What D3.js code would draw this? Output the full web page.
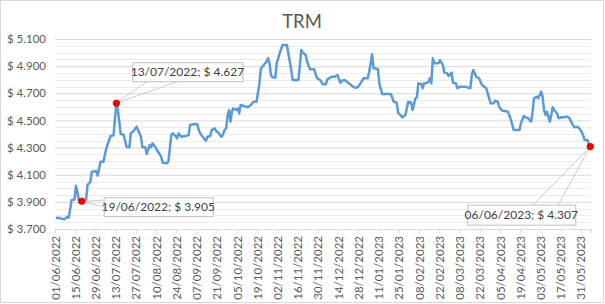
<!DOCTYPE html>
<html>
<head>
<meta charset="utf-8">
<script src="https://cdn.jsdelivr.net/npm/d3@7"></script>
<style>
  body { margin: 0; background: #fff; }
  svg { display: block; font-family: Lato, "Open Sans", sans-serif; }
</style>
</head>
<body>
<div id="chart"></div>
<script>
// TRM daily values
var dates = [
  "2022-06-01","2022-06-02","2022-06-04","2022-06-07","2022-06-09","2022-06-10","2022-06-12","2022-06-14","2022-06-15","2022-06-16","2022-06-17","2022-06-19","2022-06-22","2022-06-23","2022-06-25","2022-06-26","2022-06-29","2022-06-30",
  "2022-07-02","2022-07-04","2022-07-06","2022-07-08","2022-07-09","2022-07-11","2022-07-13","2022-07-14","2022-07-16","2022-07-18","2022-07-20","2022-07-22","2022-07-23","2022-07-25","2022-07-27","2022-07-28","2022-07-30","2022-07-31",
  "2022-08-02","2022-08-03","2022-08-05","2022-08-06","2022-08-07","2022-08-09","2022-08-10","2022-08-13","2022-08-14","2022-08-17","2022-08-18","2022-08-20","2022-08-21","2022-08-23","2022-08-24","2022-08-25","2022-08-27","2022-08-30",
  "2022-09-01","2022-09-02","2022-09-05","2022-09-07","2022-09-08","2022-09-09","2022-09-11","2022-09-12","2022-09-13","2022-09-14","2022-09-16","2022-09-17","2022-09-19","2022-09-20","2022-09-22","2022-09-23","2022-09-24","2022-09-26","2022-09-27","2022-09-28","2022-09-29","2022-09-30",
  "2022-10-01","2022-10-02","2022-10-04","2022-10-05","2022-10-06","2022-10-07","2022-10-09","2022-10-12","2022-10-14","2022-10-16","2022-10-18","2022-10-20","2022-10-21","2022-10-23","2022-10-24","2022-10-26","2022-10-27","2022-10-28","2022-10-29","2022-10-31",
  "2022-11-01","2022-11-03","2022-11-05","2022-11-08","2022-11-09","2022-11-11","2022-11-12","2022-11-16","2022-11-18","2022-11-19","2022-11-21","2022-11-22","2022-11-24","2022-11-27","2022-11-28","2022-11-29",
  "2022-12-01","2022-12-03","2022-12-05","2022-12-06","2022-12-09","2022-12-11","2022-12-13","2022-12-15","2022-12-16","2022-12-18","2022-12-21","2022-12-23","2022-12-25","2022-12-27","2022-12-29","2022-12-31",
  "2023-01-03","2023-01-04","2023-01-06","2023-01-07","2023-01-10","2023-01-11","2023-01-13","2023-01-19","2023-01-21","2023-01-23","2023-01-24","2023-01-26","2023-01-27","2023-01-29","2023-01-31",
  "2023-02-02","2023-02-03","2023-02-05","2023-02-06","2023-02-07","2023-02-09","2023-02-10","2023-02-11","2023-02-13","2023-02-14","2023-02-15","2023-02-16","2023-02-17","2023-02-18","2023-02-21","2023-02-22","2023-02-24","2023-02-25","2023-02-27","2023-02-28",
  "2023-03-02","2023-03-03","2023-03-05","2023-03-06","2023-03-08","2023-03-11","2023-03-13","2023-03-15","2023-03-16","2023-03-17","2023-03-19","2023-03-21","2023-03-23","2023-03-26","2023-03-27","2023-03-29","2023-03-31",
  "2023-04-01","2023-04-03","2023-04-04","2023-04-06","2023-04-08","2023-04-10","2023-04-12","2023-04-14","2023-04-18","2023-04-19","2023-04-21","2023-04-22","2023-04-24","2023-04-25","2023-04-26","2023-04-27","2023-04-28","2023-04-30",
  "2023-05-01","2023-05-03","2023-05-04","2023-05-05","2023-05-06","2023-05-07","2023-05-08","2023-05-09","2023-05-10","2023-05-11","2023-05-12","2023-05-14","2023-05-15","2023-05-17","2023-05-19","2023-05-21","2023-05-22","2023-05-23","2023-05-25","2023-05-26","2023-05-28","2023-05-29","2023-05-31",
  "2023-06-01","2023-06-02","2023-06-04","2023-06-05","2023-06-06"
];
var trm = [
  3780,3783,3779,3771,3790,3783,3913,3918,4019,3975,3913,3905,3913,4023,4048,4122,4127,4093,
  4196,4196,4294,4356,4385,4390,4627,4580,4400,4395,4306,4302,4405,4424,4454,4429,4380,4302,
  4302,4252,4319,4302,4331,4302,4282,4233,4188,4184,4196,4392,4405,4385,4368,4405,4380,4385,
  4392,4466,4473,4471,4429,4405,4375,4361,4350,4380,4385,4429,4442,4422,4405,4385,4380,4429,4442,4540,4577,4491,
  4564,4589,4577,4589,4552,4614,4606,4597,4614,4638,4638,4773,4884,4908,4921,4958,4921,4835,4818,4815,
  4921,4995,5056,5056,4995,4872,4798,4798,5019,4999,4982,4933,4877,4877,4835,4810,
  4798,4766,4766,4803,4822,4822,4835,4778,4793,4798,4773,4756,4741,4744,4773,4810,
  4810,4859,4987,4884,4879,4773,4695,4695,4638,4631,4557,4535,4523,4540,4638,
  4631,4577,4663,4670,4773,4768,4737,4773,4778,4785,4810,4773,4958,4921,4921,4945,4908,4852,4847,4827,
  4852,4778,4773,4737,4749,4749,4744,4737,4835,4872,4822,4810,4761,4737,4700,4626,4626,
  4645,4638,4597,4572,4569,4564,4508,4429,4429,4479,4533,4523,4516,4503,4491,4552,4663,4675,
  4663,4712,4675,4577,4540,4564,4528,4491,4540,4597,4577,4552,4516,4523,4523,4528,4523,4508,4466,4449,4454,4446,4417,
  4392,4356,4356,4326,4307
];
var yTicks = [3700, 3900, 4100, 4300, 4500, 4700, 4900, 5100];
var labelledDates = ["2022-06-19", "2022-07-13", "2023-06-06"];
var axisStart = "2022-06-01", axisEnd = "2023-06-07", tickStepDays = 14;

var W = 605, H = 304;
var margin = { top: 39, right: 14, bottom: 75, left: 55 };
var w = W - margin.left - margin.right;
var h = H - margin.top - margin.bottom;

var parse = d3.timeParse("%Y-%m-%d");
var fmtDate = d3.timeFormat("%d/%m/%Y");
var locale = d3.formatLocale({ decimal: ",", thousands: ".", grouping: [3], currency: ["$ ", ""] });
var fmtMoney = locale.format("$,.0f");

var data = dates.map(function(d, i) {
  return { key: d, date: parse(d), value: trm[i] };
});

var x = d3.scaleTime().domain([parse(axisStart), parse(axisEnd)]).range([0, w]);
var y = d3.scaleLinear().domain([3700, 5100]).range([h, 0]);
// points sit in the middle of their day
function px(d) { return x(d3.timeHour.offset(d.date, 12)); }

var svg = d3.select("#chart").append("svg").attr("width", W).attr("height", H);
svg.append("rect").attr("x", 0.5).attr("y", 0.5).attr("width", W - 2).attr("height", H - 2)
   .attr("fill", "#fff").attr("stroke", "#d9d9d9");

svg.append("text").attr("x", 302).attr("y", 28).attr("text-anchor", "middle")
   .attr("fill", "#595959").style("font-size", "18.5px").text("TRM");

var g = svg.append("g").attr("transform", "translate(" + margin.left + "," + margin.top + ")");

// minor gridlines every 50
g.append("g").selectAll("line").data(d3.range(3700, 5101, 50).filter(function(v) { return v % 200 !== 100; }))
  .enter().append("line")
  .attr("x1", 0).attr("x2", w).attr("y1", function(v) { return Math.round(y(v)) + 0.5; })
  .attr("y2", function(v) { return Math.round(y(v)) + 0.5; })
  .attr("stroke", "#ececec");

// major gridlines + y labels
var yAxis = d3.axisLeft(y).tickValues(yTicks).tickSize(-w).tickPadding(9).tickFormat(fmtMoney);
var ya = g.append("g").call(yAxis);
ya.select(".domain").remove();
ya.selectAll("line").attr("stroke", "#d9d9d9");
ya.selectAll("text").attr("fill", "#595959").style("font-size", "11.5px").style("font-family", "Lato, sans-serif");

// x axis
var tickDates = d3.timeDay.range(parse(axisStart), parse(axisEnd)).filter(function(d, i) { return i % tickStepDays === 0; });
var xAxis = d3.axisBottom(x).tickValues(tickDates).tickSize(4).tickPadding(6).tickFormat(fmtDate);
var xa = g.append("g").attr("transform", "translate(0," + h + ")").call(xAxis);
xa.select(".domain").attr("stroke", "#d9d9d9");
xa.selectAll("line").attr("stroke", "#d9d9d9");
xa.selectAll("text")
  .attr("fill", "#595959").style("font-size", "11.5px").style("font-family", "Lato, sans-serif")
  .attr("text-anchor", "end").attr("dy", "0.35em")
  .attr("transform", "rotate(-90)")
  .attr("x", -7).attr("y", 0);

// line
var line = d3.line().x(px).y(function(d) { return y(d.value); });
g.append("path").datum(data).attr("d", line)
  .attr("fill", "none").attr("stroke", "#5b9bd5").attr("stroke-width", 2.5)
  .attr("stroke-linejoin", "round");

// callouts: box offset and wedge relative to the point
var calloutLayout = [
  { bx: 22, by: -4, bw: 109, bh: 19, wedge: [[22, -1], [22, 6]] },
  { bx: 16, by: -41, bw: 110, bh: 19, wedge: [[31, -22], [62, -22]] },
  { bx: -123, by: 58, bw: 108, bh: 20, wedge: [[-57, 58], [-32, 58]] }
];
var marked = labelledDates.map(function(s) {
  return data.find(function(d) { return d.key === s; });
});

var cg = g.append("g").selectAll("g").data(marked).enter().append("g")
  .attr("transform", function(d) { return "translate(" + px(d) + "," + y(d.value) + ")"; });
cg.each(function(d, i) {
  var L = calloutLayout[i], s = d3.select(this);
  L.wedge.forEach(function(p) {
    s.append("line").attr("x1", 0).attr("y1", 0).attr("x2", p[0]).attr("y2", p[1])
      .attr("stroke", "#bfbfbf").attr("stroke-width", 0.8);
  });
  s.append("rect").attr("x", L.bx + 0.5).attr("y", L.by + 0.5).attr("width", L.bw).attr("height", L.bh)
    .attr("fill", "#fff").attr("stroke", "#bfbfbf");
  s.append("text").attr("x", L.bx + L.bw / 2).attr("y", L.by + L.bh / 2 + 4.5)
    .attr("text-anchor", "middle").attr("fill", "#404040").style("font-size", "12px")
    .text(fmtDate(d.date) + "; " + fmtMoney(d.value));
  s.append("circle").attr("r", 3.3).attr("fill", "#ff0000").attr("stroke", "#c00000").attr("stroke-width", 0.7);
});
</script>
</body>
</html>
